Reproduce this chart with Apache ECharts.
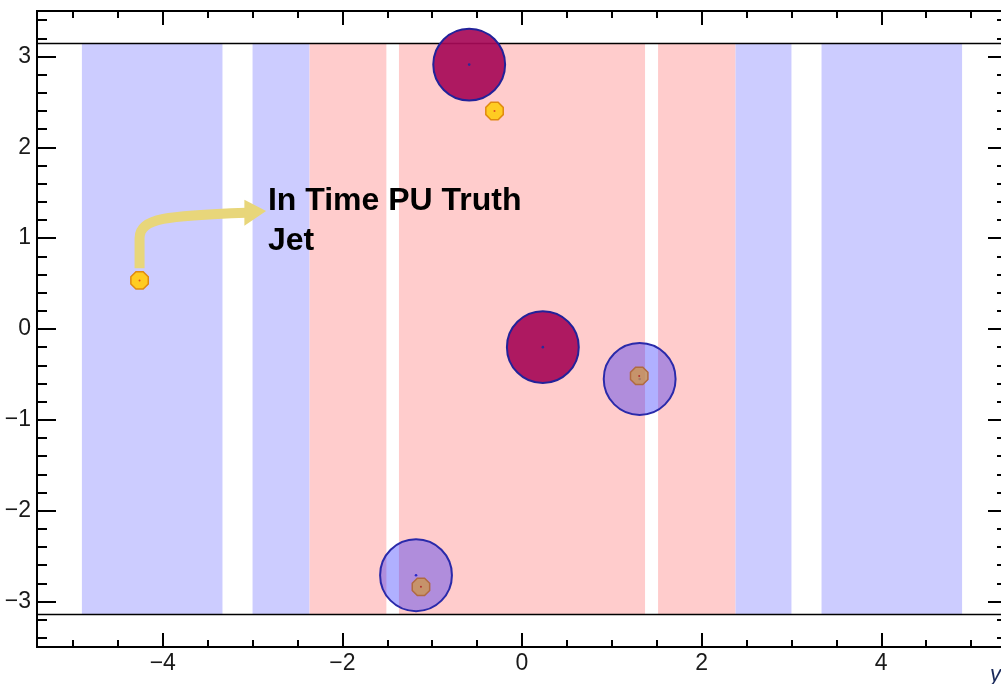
<!DOCTYPE html>
<html><head><meta charset="utf-8">
<script src="https://cdn.jsdelivr.net/npm/echarts@6/dist/echarts.min.js"></script>
<style>html,body{margin:0;padding:0;background:#fff}#c{width:1001px;height:684px}</style>
</head><body><div id="c"></div>
<script>
// ---- data ----
const xMin = -5.4, xMax = 5.4, yMin = -3.5, yMax = 3.5;
const xMajorTicks = [-4, -2, 0, 2, 4];
const yMajorTicks = [-3, -2, -1, 0, 1, 2, 3];
const xMinorTicks = [-5, -4.5, -3.5, -3, -2.5, -1.5, -1, -0.5, 0.5, 1, 1.5, 2.5, 3, 3.5, 4.5, 5];
const yMinorTicks = [-3.4, -3.2, -2.8, -2.6, -2.4, -2.2, -1.8, -1.6, -1.4, -1.2, -0.8, -0.6, -0.4, -0.2,
                     0.2, 0.4, 0.6, 0.8, 1.2, 1.4, 1.6, 1.8, 2.2, 2.4, 2.6, 2.8, 3.2, 3.4];
const blueBands = [[-4.9, -3.335], [-3.0, -2.365], [2.375, 3.0], [3.335, 4.9]];
const pinkBands = [[-2.365, -1.51], [-1.37, 1.37], [1.515, 2.375]];
const phiRange = [-Math.PI, Math.PI];
const hardScatterJets = [[-0.588, 2.91], [0.232, -0.2]];
const pileupJets = [[1.31, -0.55], [-1.18, -2.71]];
const truthPileupParticles = [[1.305, -0.516], [-1.125, -2.838]];
const truthJets = [[-0.306, 2.399], [-4.258, 0.535]];
const jetRadius = 0.4;
const truthRadius = 0.105;
const annotationText = ['In Time PU Truth', 'Jet'];
const arrowShaft = [[-4.258, 0.67], [-4.258, 1.0], [-4.258, 1.22], [-3.95, 1.25], [-3.091, 1.28]];
const arrowTip = [-2.849, 1.30];

// ---- chart ----
const chart = echarts.init(document.getElementById('c'), null, {renderer: 'canvas'});
const FONT = 'Liberation Sans, Arial, sans-serif';
const minus = v => String(v).replace('-', '\u2212');

function xAxisDef(pos, vals, len, labels) {
  return {
    type: 'value', position: pos, min: xMin, max: xMax,
    axisLine: {show: true, onZero: false, lineStyle: {color: '#000', width: 2}},
    axisTick: {show: true, inside: true, length: len, customValues: vals, lineStyle: {color: '#000', width: 2}},
    axisLabel: {show: labels, customValues: vals, formatter: minus, color: '#1a1a1a', fontSize: 23, fontFamily: FONT, margin: 5},
    splitLine: {show: false}
  };
}
function yAxisDef(pos, vals, len, labels) {
  return {
    type: 'value', position: pos, min: yMin, max: yMax,
    axisLine: {show: true, onZero: false, lineStyle: {color: '#000', width: 2}},
    axisTick: {show: true, inside: true, length: len, customValues: vals, lineStyle: {color: '#000', width: 2}},
    axisLabel: {show: labels, customValues: vals, formatter: minus, color: '#1a1a1a', fontSize: 23, fontFamily: FONT, margin: 6},
    splitLine: {show: false}
  };
}

function octagon(c, r) {
  const pts = [];
  for (let i = 0; i < 8; i++) {
    const a = Math.PI / 8 + i * Math.PI / 4;
    pts.push([c[0] + r * Math.cos(a), c[1] + r * Math.sin(a)]);
  }
  return pts;
}

const bandData = blueBands.map(b => [b[0], b[1], 0]).concat(pinkBands.map(b => [b[0], b[1], 1]));

const option = {
  animation: false,
  grid: {left: 37, width: 970, top: 11, height: 636, containLabel: false, outerBoundsMode: 'none'},
  xAxis: [
    xAxisDef('bottom', xMajorTicks, 14, true),
    xAxisDef('bottom', xMinorTicks, 7, false),
    xAxisDef('top', xMajorTicks, 14, false),
    xAxisDef('top', xMinorTicks, 7, false)
  ],
  yAxis: [
    yAxisDef('left', yMajorTicks, 19, true),
    yAxisDef('left', yMinorTicks, 10, false),
    yAxisDef('right', yMajorTicks, 19, false),
    yAxisDef('right', yMinorTicks, 10, false)
  ],
  series: [
    {
      type: 'custom', z: 1, data: bandData, encode: {x: [0, 1]},
      renderItem(params, api) {
        const p0 = api.coord([api.value(0), phiRange[1]]);
        const p1 = api.coord([api.value(1), phiRange[0]]);
        return {type: 'rect', shape: {x: p0[0], y: p0[1], width: p1[0] - p0[0], height: p1[1] - p0[1]},
          style: {fill: api.value(2) === 0 ? '#ccccff' : '#ffcccc'}};
      }
    },
    {type: 'line', z: 2, symbol: 'none', data: [[xMin, phiRange[1]], [xMax, phiRange[1]]], lineStyle: {color: '#000', width: 1.5}},
    {type: 'line', z: 2, symbol: 'none', data: [[xMin, phiRange[0]], [xMax, phiRange[0]]], lineStyle: {color: '#000', width: 1.5}},
    {
      type: 'custom', z: 3, data: hardScatterJets,
      renderItem(params, api) {
        const c = api.coord([api.value(0), api.value(1)]);
        const s = api.size([jetRadius, jetRadius]);
        return {type: 'group', children: [
          {type: 'circle', shape: {cx: c[0], cy: c[1], r: s[0]}, style: {fill: 'rgba(167,10,88,0.92)', stroke: '#22229a', lineWidth: 2}},
          {type: 'circle', shape: {cx: c[0], cy: c[1], r: 1.3}, style: {fill: '#2a2a9a'}}
        ]};
      }
    },
    {
      type: 'custom', z: 3, data: pileupJets,
      renderItem(params, api) {
        const c = api.coord([api.value(0), api.value(1)]);
        const s = api.size([jetRadius, jetRadius]);
        return {type: 'group', children: [
          {type: 'circle', shape: {cx: c[0], cy: c[1], r: s[0]}, style: {fill: 'rgba(0,0,255,0.31)', stroke: '#2a2aaa', lineWidth: 2}},
          {type: 'circle', shape: {cx: c[0], cy: c[1], r: 1.3}, style: {fill: '#2a2aca'}}
        ]};
      }
    },
    {
      type: 'custom', z: 4, data: truthPileupParticles,
      renderItem(params, api) {
        const c = api.coord([api.value(0), api.value(1)]);
        const s = api.size([truthRadius, truthRadius]);
        return {type: 'group', children: [
          {type: 'polygon', shape: {points: octagon(c, s[0])}, style: {fill: 'rgba(205,150,70,0.75)', stroke: '#b06a40', lineWidth: 1.5}},
          {type: 'circle', shape: {cx: c[0], cy: c[1], r: 1}, style: {fill: '#b03030'}}
        ]};
      }
    },
    {
      type: 'custom', z: 4, data: truthJets,
      renderItem(params, api) {
        const c = api.coord([api.value(0), api.value(1)]);
        const s = api.size([truthRadius, truthRadius]);
        return {type: 'group', children: [
          {type: 'polygon', shape: {points: octagon(c, s[0])}, style: {fill: '#ffcc22', stroke: '#e08a10', lineWidth: 1.5}},
          {type: 'circle', shape: {cx: c[0], cy: c[1], r: 1}, style: {fill: '#e05020'}}
        ]};
      }
    },
    {
      type: 'custom', z: 5, data: [arrowTip],
      renderItem(params, api) {
        const p = arrowShaft.map(d => api.coord(d));
        const tip = api.coord(arrowTip);
        const base = p[4];
        const pathData = 'M' + p[0][0] + ' ' + p[0][1] + ' L' + p[1][0] + ' ' + p[1][1] +
          ' C' + p[2][0] + ' ' + p[2][1] + ' ' + p[3][0] + ' ' + p[3][1] + ' ' + (base[0] + 2) + ' ' + base[1];
        const t0 = api.coord([arrowTip[0] + 0.02, arrowTip[1] - 0.01]);
        return {type: 'group', children: [
          {type: 'path', shape: {pathData: pathData}, style: {fill: 'none', stroke: '#e8d67a', lineWidth: 10}},
          {type: 'polygon', shape: {points: [[base[0], base[1] - 13], [tip[0], tip[1]], [base[0], base[1] + 13]]}, style: {fill: '#e8d67a'}},
          {type: 'text', x: t0[0], y: t0[1] + 5, style: {text: annotationText[0], fill: '#000', font: 'bold 32px ' + FONT, textAlign: 'left', textVerticalAlign: 'bottom'}},
          {type: 'text', x: t0[0], y: t0[1] + 45, style: {text: annotationText[1], fill: '#000', font: 'bold 32px ' + FONT, textAlign: 'left', textVerticalAlign: 'bottom'}}
        ]};
      }
    }
  ],
  graphic: [
    {type: 'text', left: 990, top: 664, style: {text: 'y', fill: '#1a2a5a', font: 'italic 22px ' + FONT}}
  ]
};
chart.setOption(option);
</script>
</body></html>
